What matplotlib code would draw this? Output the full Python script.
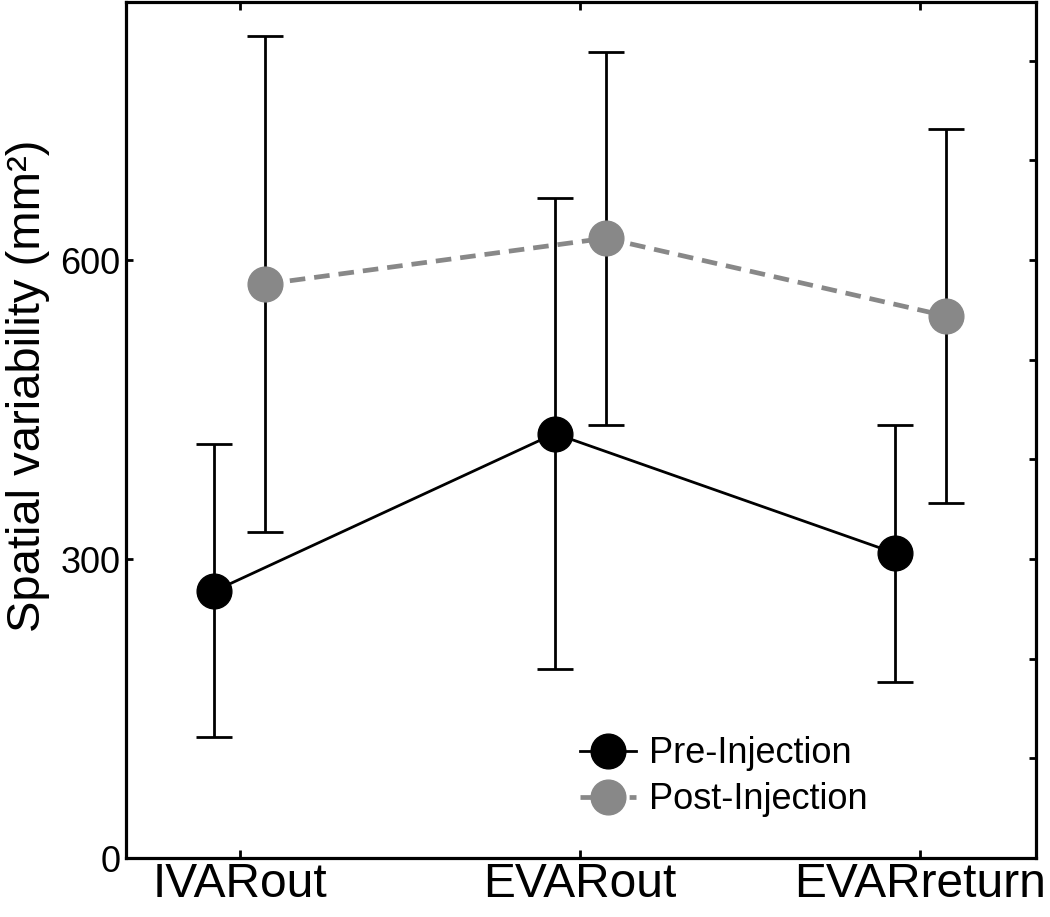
import numpy as np
import matplotlib
matplotlib.use("Agg")
import matplotlib.pyplot as plt
from matplotlib.ticker import MultipleLocator

plt.rcParams['font.family'] = ['Liberation Sans', 'DejaVu Sans']

categories = ["IVARout", "EVARout", "EVARreturn"]
pre_mean = [268, 426, 306]
pre_err = [147, 236, 129]
post_mean = [576, 622, 544]
post_err = [249, 187, 188]

x = np.arange(1, len(categories) + 1)
off = 0.075

fig = plt.figure(figsize=(10.5, 9.17), dpi=100)
ax = fig.add_axes([0.12, 0.0643, 0.8667, 0.9335])

ax.errorbar(x - off, pre_mean, yerr=pre_err, fmt='none', ecolor='black',
            elinewidth=2, capsize=13, capthick=2, zorder=2)
ax.errorbar(x + off, post_mean, yerr=post_err, fmt='none', ecolor='black',
            elinewidth=2, capsize=13, capthick=2, zorder=2)
ax.plot(x - off, pre_mean, '-o', color='black', lw=2, ms=25,
        label='Pre-Injection', zorder=3)
ax.plot(x + off, post_mean, '--o', color='#888888', lw=3.4, ms=25,
        dashes=(3.3, 1.9), label='Post-Injection', zorder=3)

ax.set_xlim(0.665, 3.34)
ax.set_ylim(0, 859)
ax.set_xticks(x)
ax.set_xticklabels(categories, fontsize=34.5)
ax.set_yticks([0, 300, 600])
ax.yaxis.set_minor_locator(MultipleLocator(100))
ax.tick_params(axis='y', which='major', direction='in', left=True, right=True,
               length=5, width=2, labelsize=26, pad=4)
ax.tick_params(axis='y', which='minor', direction='in', left=False, right=True,
               length=5, width=2)
ax.tick_params(axis='x', direction='in', top=True, bottom=True,
               length=6, width=2, pad=3)
for s in ax.spines.values():
    s.set_linewidth(2.3)

fig.text(0.006, 0.579, 'Spatial variability (mm²)', rotation=90,
         fontsize=34, va='center', ha='left')

ax.legend(loc='upper left', bbox_to_anchor=(0.499, 0.142), frameon=False,
          fontsize=26, handlelength=1.55, handletextpad=0.35, borderpad=0,
          borderaxespad=0, labelspacing=0.3)

fig.savefig('out.png', dpi=100)
